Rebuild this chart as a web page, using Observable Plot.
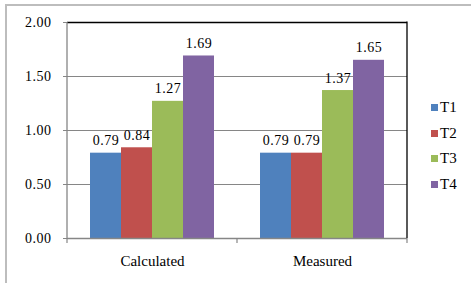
<!DOCTYPE html>
<html>
<head>
<meta charset="utf-8">
<script src="https://cdn.jsdelivr.net/npm/d3@7"></script>
<script src="https://cdn.jsdelivr.net/npm/@observablehq/plot@0.6"></script>
<style>
  html, body { margin: 0; padding: 0; background: #fff; }
  #wrap { position: relative; width: 471px; height: 283px; overflow: hidden; background: #fff; }
  #border { position: absolute; left: 5px; top: 4px; width: 600px; height: 400px; border-top: 2px solid #bdbdbd; border-left: 2px solid #bdbdbd; box-sizing: border-box; }
  #chart { position: absolute; left: 0; top: 0; }
  #legend { position: absolute; left: 431px; top: 95px; }
  #chart svg, #chart svg text, #legend, #legend * { font-family: 'Liberation Serif', 'Times New Roman', serif !important; }
  .num text { letter-spacing: 0.5px; font-variant-numeric: normal !important; }
  [class$="-swatch"] > svg { margin-right: 2px !important; }
</style>
</head>
<body>
<div id="wrap"><div id="border"></div><div id="chart"></div><div id="legend"></div></div>
<script>
const groups = ["Calculated", "Measured"];
const series = ["T1", "T2", "T3", "T4"];
const calculated = [0.79, 0.84, 1.27, 1.69];
const measured = [0.79, 0.79, 1.37, 1.65];
const colors = ["#4F81BD", "#C0504D", "#9BBB59", "#8064A2"];
const yTicks = [0, 0.5, 1, 1.5, 2];

const values = [calculated, measured];
const data = [];
groups.forEach((g, gi) => series.forEach((s, si) => data.push({group: g, series: s, value: values[gi][si]})));

const font = "'Liberation Serif', 'Times New Roman', serif";

const plot = Plot.plot({
  width: 471,
  height: 283,
  marginLeft: 67,
  marginRight: 64,
  marginTop: 22,
  marginBottom: 45,
  style: {fontFamily: font, fontSize: "14px", color: "#000", background: "transparent", overflow: "visible"},
  fx: {domain: groups, padding: 0, label: null, axis: null},
  x: {domain: series, paddingInner: 0, paddingOuter: 0.74, axis: null},
  y: {domain: [0, 2], axis: null},
  color: {domain: series, range: colors},
  marks: [
    Plot.gridY(yTicks.filter(d => d > 0 && d < 2), {stroke: "#868686", strokeOpacity: 1}),
    Plot.ruleY([2], {stroke: "#000", strokeWidth: 1.3}),
    Plot.barY(data, {fx: "group", x: "series", y: "value", fill: "series"}),
    Plot.ruleY([0], {stroke: "#868686", strokeWidth: 1.5}),
    Plot.text(data, {fx: "group", x: "series", y: "value", text: d => d.value.toFixed(2), lineAnchor: "bottom", dy: -8, fill: "#000", fontSize: 14, className: "num"}),
    Plot.axisY(yTicks, {tickFormat: d3.format(".2f"), tickSize: 4, tickPadding: 12, stroke: "#868686", fill: "#000", fontSize: 14, label: null, className: "num"}),
    Plot.axisFx({anchor: "bottom", tickSize: 0, tickPadding: 17, fontSize: 15, fill: "#000", label: null})
  ]
});

document.getElementById("chart").appendChild(plot);

// plot-area borders and category boundary ticks, from the plot's scales
const fx = plot.scale("fx");
const y = plot.scale("y");
const svg = d3.select(plot);
const left = fx.apply(groups[0]);
const right = fx.apply(groups[groups.length - 1]) + fx.bandwidth;
const y0 = y.apply(0), y2 = y.apply(2);
const g = svg.append("g");
g.append("line").attr("x1", left).attr("x2", left).attr("y1", y2).attr("y2", y0).attr("stroke", "#868686").attr("stroke-width", 1.3);
g.append("line").attr("x1", right).attr("x2", right).attr("y1", y2 - 0.6).attr("y2", y0).attr("stroke", "#000").attr("stroke-width", 1.3);
const bounds = groups.map(d => fx.apply(d)).concat([right]);
bounds.forEach(b => g.append("line").attr("x1", b).attr("x2", b).attr("y1", y0).attr("y2", y0 + 5).attr("stroke", "#868686").attr("stroke-width", 1.2));

// legend
const legend = Plot.legend({
  color: {domain: series, range: colors},
  legend: "swatches",
  swatchSize: 7,
  style: {fontFamily: font, fontSize: "15px", color: "#000", background: "transparent"}
});
legend.style.display = "flex";
legend.style.flexDirection = "column";
legend.style.alignItems = "flex-start";
legend.style.margin = "0";
legend.style.minHeight = "0";
Array.from(legend.children).forEach(el => {
  if (el.tagName && el.tagName.toLowerCase() === "span") {
    el.style.height = "25.6px";
    el.style.margin = "0";
    el.style.display = "flex";
    el.style.alignItems = "center";
  }
});
document.getElementById("legend").appendChild(legend);
</script>
</body>
</html>
